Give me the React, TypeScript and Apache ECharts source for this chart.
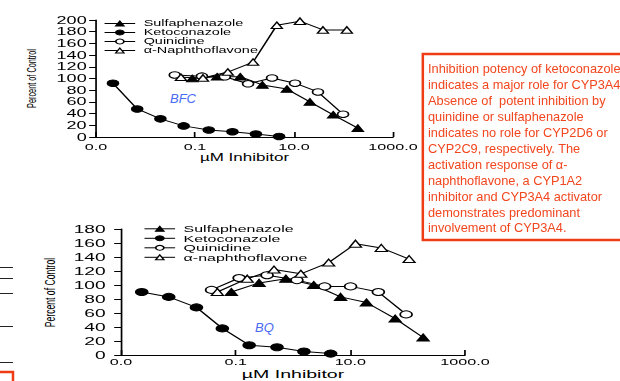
import React, { useEffect, useRef } from "react";
import * as echarts from "echarts";

const S = 1.7; // horizontal stretch of the original slide picture
const FONT = "'Liberation Sans', Arial, Helvetica, sans-serif";

const xTickLabels = ["0.0", "0.1", "10.0", "1000.0"];
const namesTop = ["Sulfaphenazole", "Ketoconazole", "Quinidine", "α-Naphthoflavone"];
const namesBottom = ["Sulfaphenazole", "Ketoconazole", "Quinidine", "α-naphthoflavone"];

// BFC (top) — concentration in µM, percent of control
const bfcSulfaConc = [0.088, 0.28, 0.82, 2.3, 7.2, 21, 62, 195];
const bfcSulfaVal = [100, 103, 103, 89, 82, 60, 38, 15];
const bfcKetoConc = [0.0022, 0.0068, 0.02, 0.059, 0.19, 0.57, 1.7, 5.0];
const bfcKetoVal = [92, 48, 31, 19, 12, 9, 5, 1];
const bfcQuinConc = [0.039, 0.138, 0.4, 1.18, 3.6, 10.5, 30.5, 98];
const bfcQuinVal = [106, 104, 103, 91, 101, 92, 77, 39];
const bfcNaphConc = [0.052, 0.145, 0.46, 1.49, 4.5, 13.2, 38.5, 117];
const bfcNaphVal = [102, 101, 111, 128, 191, 198, 183, 183];

// BQ (bottom)
const bqSulfaConc = [0.084, 0.256, 0.753, 2.3, 6.76, 19.1, 60.7, 186];
const bqSulfaVal = [90, 103, 109, 100, 83, 75, 52, 25];
const bqKetoConc = [0.0023, 0.0068, 0.0207, 0.0586, 0.172, 0.526, 1.55, 4.54];
const bqKetoVal = [90, 83, 68, 38, 14, 11, 5, 2];
const bqQuinConc = [0.038, 0.115, 0.353, 1.17, 3.57, 10.1, 30.8, 94];
const bqQuinVal = [93, 110, 114, 107, 98, 98, 90, 58];
const bqNaphConc = [0.048, 0.159, 0.467, 1.37, 4.19, 12.3, 34.7, 106];
const bqNaphVal = [90, 109, 122, 116, 132, 159, 153, 137];

const noteLines = [
  "Inhibition potency of ketoconazole",
  "indicates a major role for CYP3A4.",
  "Absence of  potent inhibition by",
  "quinidine or sulfaphenazole",
  "indicates no role for CYP2D6 or",
  "CYP2C9, respectively. The",
  "activation response of α-",
  "naphthoflavone, a CYP1A2",
  "inhibitor and CYP3A4 activator",
  "demonstrates predominant",
  "involvement of CYP3A4.",
];

const toPts = (conc: number[], vals: number[]) =>
  conc.map((c, i) => [Math.log10(c) + 3, vals[i]]);

const filled = { color: "#000", borderColor: "#000", borderWidth: 1 };
const open = { color: "#fff", borderColor: "#000", borderWidth: 1 };

function mk(name: string, idx: number, conc: number[], vals: number[], symbol: string, style: any, size: number) {
  return {
    type: "line",
    name,
    xAxisIndex: idx,
    yAxisIndex: idx,
    data: toPts(conc, vals),
    symbol,
    symbolSize: size,
    showAllSymbol: true,
    lineStyle: { color: "#000", width: 1 },
    itemStyle: style,
    emphasis: { disabled: true },
    z: 3,
  };
}

const xAxisBase = (gridIndex: number, nameGap: number, nameSize: number, labelMargin: number) => ({
  type: "value",
  gridIndex,
  min: 0,
  max: 6,
  interval: 2,
  name: "µM Inhibitor",
  nameLocation: "middle",
  nameGap,
  nameTextStyle: { fontSize: nameSize, color: "#000", fontFamily: FONT },
  axisLine: { lineStyle: { color: "#000", width: 1 } },
  axisTick: { show: true, inside: true, length: 5, lineStyle: { color: "#000" } },
  axisLabel: {
    fontSize: 9.5,
    color: "#000",
    fontFamily: FONT,
    margin: labelMargin,
    showMinLabel: true,
    showMaxLabel: true,
    hideOverlap: false,
    formatter: (v: number) => xTickLabels[Math.round(v / 2)] ?? "",
  },
  splitLine: { show: false },
});

const yAxisBase = (gridIndex: number, max: number, margin: number, size: number) => ({
  type: "value",
  gridIndex,
  min: 0,
  max,
  interval: 20,
  axisLine: { show: true, lineStyle: { color: "#000", width: 1 } },
  axisTick: { show: true, length: 4, lineStyle: { color: "#000" } },
  axisLabel: {
    fontSize: size,
    color: "#000",
    fontFamily: FONT,
    margin,
    showMinLabel: true,
    showMaxLabel: true,
    hideOverlap: false,
  },
  splitLine: { show: false },
});

const legendBase = {
  orient: "vertical",
  padding: 0,
  itemWidth: 18,
  itemHeight: 6,
  selectedMode: false,
  itemStyle: { borderWidth: 1 },
  lineStyle: { width: 1 },
};

const option: any = {
  animation: false,
  backgroundColor: "#fff",
  textStyle: { fontFamily: FONT },
  grid: [
    { left: 96 / S, top: 20, width: 297 / S, height: 117 },
    { left: 121 / S, top: 229, width: 344 / S, height: 126 },
  ],
  xAxis: [xAxisBase(0, 13, 10, 5), xAxisBase(1, 11, 11.5, 2)],
  yAxis: [yAxisBase(0, 200, 5.5, 10.6), yAxisBase(1, 180, 9, 11.3)],
  legend: [
    {
      ...legendBase,
      left: 61,
      top: 19,
      itemGap: 0,
      data: namesTop,
      textStyle: { fontSize: 8.5, lineHeight: 8, color: "#000", fontFamily: FONT },
    },
    {
      ...legendBase,
      left: 84.5,
      top: 224.3,
      itemGap: 0.5,
      data: namesBottom,
      textStyle: { fontSize: 9.4, lineHeight: 9, color: "#000", fontFamily: FONT },
    },
  ],
  series: [
    mk(namesTop[0], 0, bfcSulfaConc, bfcSulfaVal, "triangle", filled, 6.5),
    mk(namesTop[1], 0, bfcKetoConc, bfcKetoVal, "circle", filled, 6.5),
    mk(namesTop[2], 0, bfcQuinConc, bfcQuinVal, "circle", open, 6.5),
    mk(namesTop[3], 0, bfcNaphConc, bfcNaphVal, "triangle", open, 6.5),
    mk(namesBottom[0], 1, bqSulfaConc, bqSulfaVal, "triangle", filled, 7),
    mk(namesBottom[1], 1, bqKetoConc, bqKetoVal, "circle", filled, 7),
    mk(namesBottom[2], 1, bqQuinConc, bqQuinVal, "circle", open, 7),
    mk(namesBottom[3], 1, bqNaphConc, bqNaphVal, "triangle", open, 7),
  ],
  graphic: [
    {
      type: "text",
      x: 32 / S,
      y: 78.5,
      rotation: Math.PI / 2,
      style: { text: "Percent of Control", fontSize: 7.3, fill: "#000", fontFamily: FONT, align: "center", verticalAlign: "middle" },
    },
    {
      type: "text",
      x: 50 / S,
      y: 292.5,
      rotation: Math.PI / 2,
      style: { text: "Percent of Control", fontSize: 8.6, fill: "#000", fontFamily: FONT, align: "center", verticalAlign: "middle" },
    },
    {
      type: "group",
      x: 0,
      y: 0,
      scaleX: 1 / S,
      children: [
        { type: "text", x: 170, y: 98, style: { text: "BFC", fontSize: 13, fontStyle: "italic", fill: "#4a6af2", fontFamily: FONT, verticalAlign: "middle" } },
        { type: "text", x: 255, y: 327, style: { text: "BQ", fontSize: 13, fontStyle: "italic", fill: "#4a6af2", fontFamily: FONT, verticalAlign: "middle" } },
        { type: "rect", shape: { x: 423, y: 54, width: 220, height: 186 }, style: { fill: "#fff", stroke: "#f03c14", lineWidth: 2.5 } },
        {
          type: "text",
          x: 428,
          y: 61,
          style: { text: noteLines.join("\n"), fontSize: 12.8, lineHeight: 15.9, fill: "#f2461e", fontFamily: FONT, verticalAlign: "top" },
        },
        { type: "line", shape: { x1: 0, y1: 267.5, x2: 13, y2: 267.5 }, style: { stroke: "#222", lineWidth: 1 } },
        { type: "line", shape: { x1: 0, y1: 278.5, x2: 13, y2: 278.5 }, style: { stroke: "#222", lineWidth: 1 } },
        { type: "line", shape: { x1: 0, y1: 293.5, x2: 13, y2: 293.5 }, style: { stroke: "#222", lineWidth: 1 } },
        { type: "line", shape: { x1: 0, y1: 326.5, x2: 13, y2: 326.5 }, style: { stroke: "#222", lineWidth: 1 } },
        { type: "line", shape: { x1: 0, y1: 362.5, x2: 13, y2: 362.5 }, style: { stroke: "#222", lineWidth: 1 } },
        { type: "polyline", shape: { points: [[0, 372], [13, 372], [13, 384]] }, style: { stroke: "#f03c14", lineWidth: 2.5, fill: "none" } },
      ],
    },
  ],
};

export default function App() {
  const ref = useRef<HTMLDivElement>(null);
  useEffect(() => {
    document.body.style.margin = "0";
    const chart = echarts.init(ref.current!, null, { renderer: "svg", width: 620 / S, height: 381 });
    chart.setOption(option);
    return () => chart.dispose();
  }, []);
  return (
    <div style={{ position: "fixed", left: 0, top: 0, width: 620, height: 381, overflow: "hidden", background: "#fff" }}>
      <div ref={ref} style={{ width: 620 / S, height: 381, transform: `scaleX(${S})`, transformOrigin: "0 0" }} />
    </div>
  );
}
